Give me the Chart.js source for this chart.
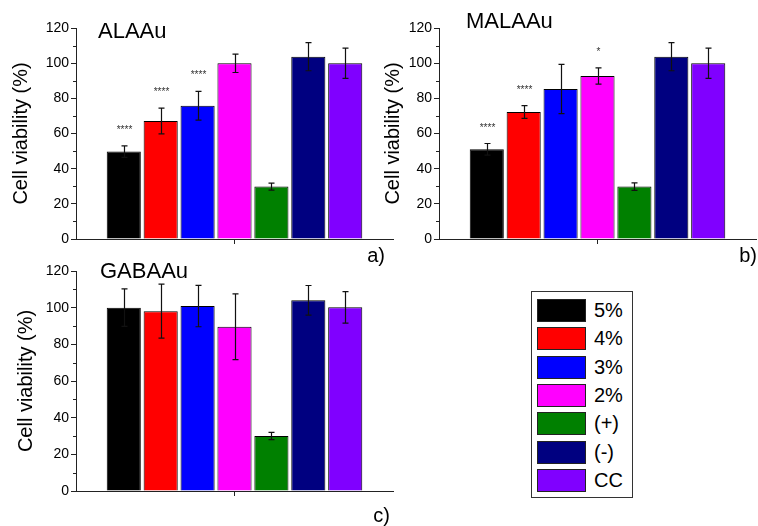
<!DOCTYPE html>
<html>
<head>
<meta charset="utf-8">
<script src="https://cdn.jsdelivr.net/npm/chart.js@4.4.1/dist/chart.umd.min.js"></script>
<style>
  body { margin: 0; background: #fff; width: 758px; height: 526px; position: relative; overflow: hidden;
         font-family: "Liberation Sans", Arial, sans-serif; }
  canvas { position: absolute; }
  #legend { position: absolute; left: 531px; top: 291px; width: 100px; height: 205px; border: 1px solid #333; }
  .row { position: absolute; left: 5px; height: 23px; }
  .sw { position: absolute; left: 0; top: 0; width: 47px; height: 21px; border: 1px solid #222; }
  .lb { position: absolute; left: 57px; top: 0; line-height: 23px; font-size: 20px; color: #000; white-space: nowrap; }
</style>
</head>
<body>
<canvas id="chartA" width="400" height="268" style="left:0;top:0"></canvas>
<canvas id="chartB" width="378" height="268" style="left:380px;top:0"></canvas>
<canvas id="chartC" width="400" height="268" style="left:0;top:258px"></canvas>
<div id="legend"></div>
<script>
// groups and colours (shared by all panels)
const groups = ['5%', '4%', '3%', '2%', '(+)', '(-)', 'CC'];
const colors = ['#000000', '#ff0000', '#0000ff', '#ff00ff', '#008000', '#000080', '#8000ff'];
const yTicks = [0, 20, 40, 60, 80, 100, 120];

// a) ALAAu
const alaMean = [49.7, 67.1, 75.8, 99.9, 29.8, 103.7, 100];
const alaErr  = [3.3, 7.3, 8.2, 5.2, 2, 8, 8.6];
const alaSig  = ['****', '****', '****', '', '', '', ''];

// b) MALAAu
const malaMean = [51, 72.2, 85.3, 92.7, 29.8, 103.7, 100];
const malaErr  = [3.3, 3.6, 14, 4.6, 2.1, 8, 8.6];
const malaSig  = ['****', '****', '', '*', '', '', ''];

// c) GABAAu
const gabaMean = [100, 98.1, 100.9, 89.6, 30, 104, 100.2];
const gabaErr  = [10.2, 14.7, 11.3, 17.9, 2, 8.1, 8.6];
const gabaSig  = ['', '', '', '', '', '', ''];

const FONT = '"Liberation Sans", Arial, sans-serif';

// error bars, significance stars, minor ticks and panel labels
const decor = {
    id: 'decor',
    afterDatasetsDraw(chart, args, opts) {
        const ctx = chart.ctx;
        const y = chart.scales.y;
        const area = chart.chartArea;
        ctx.save();

        // minor ticks on y axis
        ctx.strokeStyle = '#222';
        ctx.lineWidth = 1;
        for (let i = 0; i < yTicks.length - 1; i++) {
            const py = Math.round(y.getPixelForValue((yTicks[i] + yTicks[i + 1]) / 2)) + 0.5;
            ctx.beginPath();
            ctx.moveTo(area.left - 3, py);
            ctx.lineTo(area.left, py);
            ctx.stroke();
        }

        // error bars + stars
        opts.errors.forEach((e, i) => {
            const bar = chart.getDatasetMeta(i).data[0];
            const m = opts.means[i];
            const x = Math.round(bar.x) + 0.5;
            const top = y.getPixelForValue(m + e);
            const bot = y.getPixelForValue(m - e);
            ctx.strokeStyle = '#111';
            ctx.lineWidth = 1.2;
            ctx.beginPath();
            ctx.moveTo(x, top); ctx.lineTo(x, bot);
            ctx.moveTo(x - 3, top); ctx.lineTo(x + 3, top);
            ctx.moveTo(x - 3, bot); ctx.lineTo(x + 3, bot);
            ctx.stroke();
            if (opts.sig[i]) {
                ctx.fillStyle = '#333';
                ctx.font = '10px ' + FONT;
                ctx.textAlign = 'center';
                ctx.textBaseline = 'alphabetic';
                ctx.fillText(opts.sig[i], x, top - 13);
            }
        });

        // panel name and letter
        ctx.fillStyle = '#000';
        ctx.textBaseline = 'alphabetic';
        ctx.font = '22px ' + FONT;
        ctx.textAlign = 'left';
        ctx.fillText(opts.name, opts.namePos[0], opts.namePos[1]);
        ctx.font = '20px ' + FONT;
        ctx.textAlign = 'right';
        ctx.fillText(opts.letter, opts.letterPos[0], opts.letterPos[1]);
        ctx.restore();
    }
};

function makePanel(id, means, errs, sig, cfg) {
    return new Chart(document.getElementById(id), {
        type: 'bar',
        data: {
            labels: [''],
            datasets: groups.map((g, i) => ({
                label: g,
                data: [means[i]],
                backgroundColor: colors[i],
                borderColor: '#000',
                borderWidth: 1,
                categoryPercentage: 0.815,
                barPercentage: 0.924
            }))
        },
        options: {
            responsive: false,
            animation: false,
            devicePixelRatio: 1,
            layout: { autoPadding: false, padding: { top: cfg.top, right: cfg.right, left: 0, bottom: 0 } },
            plugins: {
                legend: { display: false },
                tooltip: { enabled: false },
                decor: {
                    means: means, errors: errs, sig: sig,
                    name: cfg.name, namePos: cfg.namePos,
                    letter: cfg.letter, letterPos: cfg.letterPos
                }
            },
            scales: {
                x: {
                    offset: true,
                    afterFit: s => { s.height = cfg.xHeight; },
                    border: { display: true, color: '#222', width: 1 },
                    grid: { display: true, offset: false, drawOnChartArea: false, drawTicks: true, tickLength: 5, tickColor: '#222' },
                    ticks: { callback: () => '' }
                },
                y: {
                    min: 0,
                    max: 120,
                    afterBuildTicks: s => { s.ticks = yTicks.map(v => ({ value: v })); },
                    afterFit: s => { s.width = cfg.yWidth; },
                    border: { display: true, color: '#222', width: 1 },
                    grid: { display: true, drawOnChartArea: false, drawTicks: true, tickLength: 5, tickColor: '#222' },
                    ticks: { color: '#000', padding: 2, font: { family: FONT, size: 14 } },
                    title: {
                        display: true,
                        text: 'Cell viability (%)',
                        color: '#000',
                        font: { family: FONT, size: 20 },
                        padding: { top: cfg.titlePad, bottom: 0 }
                    }
                }
            }
        },
        plugins: [decor]
    });
}

makePanel('chartA', alaMean, alaErr, alaSig, {
    top: 28, right: 7, xHeight: 29, yWidth: 76, titlePad: 9,
    name: 'ALAAu', namePos: [98, 38], letter: 'a)', letterPos: [385, 262]
});
makePanel('chartB', malaMean, malaErr, malaSig, {
    top: 28, right: 2, xHeight: 29, yWidth: 59, titlePad: 1,
    name: 'MALAAu', namePos: [86, 28], letter: 'b)', letterPos: [377, 262]
});
makePanel('chartC', gabaMean, gabaErr, gabaSig, {
    top: 13, right: 7, xHeight: 35, yWidth: 76, titlePad: 14,
    name: 'GABAAu', namePos: [100, 20], letter: 'c)', letterPos: [390, 264]
});

// legend box
const legend = document.getElementById('legend');
groups.forEach((g, i) => {
    const row = document.createElement('div');
    row.className = 'row';
    row.style.top = (7 + i * 28.3) + 'px';
    row.innerHTML = '<div class="sw" style="background:' + colors[i] + '"></div><div class="lb">' + g + '</div>';
    legend.appendChild(row);
});
</script>
</body>
</html>
